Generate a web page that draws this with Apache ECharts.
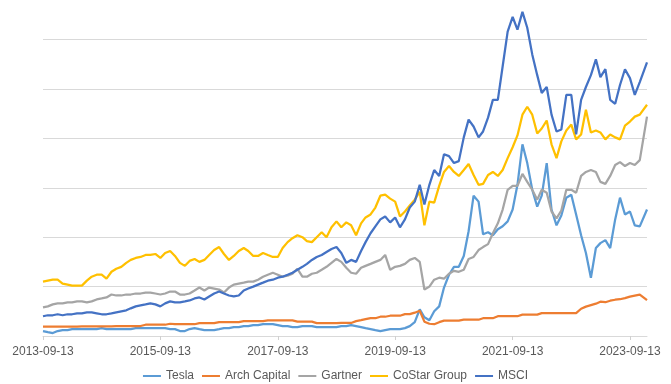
<!DOCTYPE html>
<html>
<head>
<meta charset="utf-8">
<script src="https://cdn.jsdelivr.net/npm/echarts@6/dist/echarts.min.js"></script>
<style>html,body{margin:0;padding:0;background:#fff}#c{width:671px;height:384px}</style>
</head>
<body>
<div id="c"></div>
<script>
const startDate = '2013-09-13';
const endDate = '2023-12-28';
const tickLabels = ['2013-09-13','2015-09-13','2017-09-13','2019-09-13','2021-09-13','2023-09-13'];
const seriesNames = ['Tesla','Arch Capital','Gartner','CoStar Group','MSCI'];

const tesla = [5,4,3,5,6,6,7,7,7,7,7,7,8,7,7,7,7,7,7,8,8,8,8,8,8,8,7,7,5,5,7,8,7,6,6,6,7,8,8,9,9,10,10,11,11,12,12,12,11,10,10,9,9,10,10,10,9,9,9,9,9,10,10,11,10,9,8,7,6,5,6,7,7,7,8,10,14,27,19,16,25,30,49,62,70,70,81,106,142,136,103,105,102,108,111,116,128,153,194,175,148,131,142,175,128,112,122,140,143,123,102,84,59,89,94,97,89,118,140,123,126,112,111,128];
const arch = [9.4,9.4,9.4,9.4,9.4,9.4,9.4,9.4,9.7,9.7,9.7,9.7,9.7,9.7,9.7,10.1,10.1,10.1,10.1,10.1,10.1,11.4,11.4,11.4,11.4,11.4,12.4,11.9,11.9,11.9,11.9,11.9,13,13,13,13,14,14,14,14,14,15,15,15,15,15,15.8,15.8,15.8,15.8,15.8,15.8,14.5,14.5,14.5,14.5,13,13,13,13,13,13.2,13.2,13.2,15,16,17,18,18,19.5,19.5,20.5,20.5,20.5,22.1,22.1,23.6,25.6,14.5,12.4,11.9,14,15.5,15.5,15.5,15.5,16.5,16.5,16.5,16.5,18,18,18,20,20,20,20,20,21.6,21.6,21.6,21.6,23.1,23.1,23.1,23.1,23.1,23.1,23.1,23.1,27.6,29.7,31.2,32.7,34.7,34.2,35.7,36.7,37.2,38.3,39.8,40.8,41.8,36.2];
const gartner = [29,30,32,33,33,34,34,35,35,34,35,37,38,39,42,41,41,42,42,43,43,44,44,43,42,43,45,45,42,42,43,46,49,46,49,48,47,44,49,52,53,54,55,55,57,60,62,64,62,60,61,63,68,60,60,63,64,67,70,74,78,75,69,64,63,69,71,73,75,77,82,67,70,71,73,77,79,75,47,50,57,59,58,63,66,65,67,78,80,87,90,93,104,114,128,148,152,152,164,156,148,138,148,145,126,119,127,148,148,145,162,166,168,166,156,154,162,173,176,172,175,173,178,222];
const costar = [55,56,57,57,53,52,51,51,51,56,60,62,62,58,65,68,70,74,77,79,80,82,82,83,79,84,86,81,74,71,76,78,75,77,82,87,90,83,77,81,86,89,86,81,81,84,82,80,80,89,95,99,102,100,96,95,100,105,100,110,116,110,115,112,102,114,120,123,130,142,143,139,136,121,126,132,138,146,112,136,135,152,166,172,166,162,168,174,163,153,154,163,166,162,168,180,191,203,224,232,224,205,210,218,194,180,197,208,214,199,204,229,206,208,206,199,204,201,199,213,217,222,224,234];
const msci = [20,21,21,22,21,22,22,23,23,24,24,23,22,22,23,24,25,26,28,30,31,32,33,32,30,33,35,34,34,35,36,38,39,37,40,43,45,43,41,40,41,46,48,50,52,54,56,57,59,60,62,64,67,70,73,77,80,82,85,88,90,84,74,77,75,86,95,104,111,118,121,115,120,110,118,130,136,153,133,153,168,162,184,182,175,177,201,219,212,201,207,221,239,239,273,308,323,310,328,312,285,264,246,252,224,207,209,244,244,204,239,252,264,280,262,270,239,235,254,270,261,244,257,277];

const colors = ['#5B9BD5','#ED7D31','#A5A5A5','#FFC000','#4472C4'];
const valuesList = [tesla, arch, gartner, costar, msci];

function ts(s) { const p = s.split('-'); return Date.UTC(+p[0], +p[1] - 1, +p[2]); }
function fmt(v) {
  const d = new Date(v);
  return d.getUTCFullYear() + '-' + String(d.getUTCMonth() + 1).padStart(2, '0') + '-' + String(d.getUTCDate()).padStart(2, '0');
}
// monthly sample dates on the 13th; last sample is the final data date
function buildDates(n) {
  const out = [];
  for (let i = 0; i < n; i++) {
    const y = 2013 + Math.floor((8 + i) / 12);
    const m = (8 + i) % 12;
    out.push(Date.UTC(y, m, 13));
  }
  out[n - 1] = ts(endDate);
  return out;
}
const dates = buildDates(tesla.length);
const tickValues = tickLabels.map(ts);

const chart = echarts.init(document.getElementById('c'), null, {renderer: 'canvas'});
const font = 'Liberation Sans, Arial, sans-serif';
chart.setOption({
  animation: false,
  backgroundColor: '#ffffff',
  color: colors,
  grid: {left: 43, right: 24, top: 4, bottom: 48},
  legend: {
    data: seriesNames,
    left: 'center',
    top: 365,
    itemWidth: 18,
    itemHeight: 2,
    itemGap: 8,
    icon: 'rect',
    textStyle: {color: '#595959', fontSize: 12, fontFamily: font}
  },
  xAxis: {
    type: 'value',
    min: ts(startDate),
    max: ts(endDate),
    axisLine: {lineStyle: {color: '#d9d9d9', width: 1}},
    axisTick: {show: true, length: 4, lineStyle: {color: '#d0d0d0'}, customValues: tickValues},
    axisLabel: {
      customValues: tickValues,
      color: '#595959', fontSize: 12, fontFamily: font, margin: 10,
      formatter: function (v) { return fmt(v); }
    },
    splitLine: {show: false}
  },
  yAxis: {
    type: 'value',
    min: 0,
    max: 336,
    interval: 50,
    axisLine: {show: false},
    axisTick: {show: false},
    axisLabel: {show: false},
    splitLine: {show: true, showMaxLine: false, lineStyle: {color: '#d9d9d9', width: 1}}
  },
  series: seriesNames.map(function (name, i) {
    return {
      name: name,
      type: 'line',
      showSymbol: false,
      symbol: 'none',
      lineStyle: {width: 2.25, color: colors[i]},
      itemStyle: {color: colors[i]},
      data: dates.map(function (d, j) { return [d, valuesList[i][j]]; })
    };
  })
});
</script>
</body>
</html>
